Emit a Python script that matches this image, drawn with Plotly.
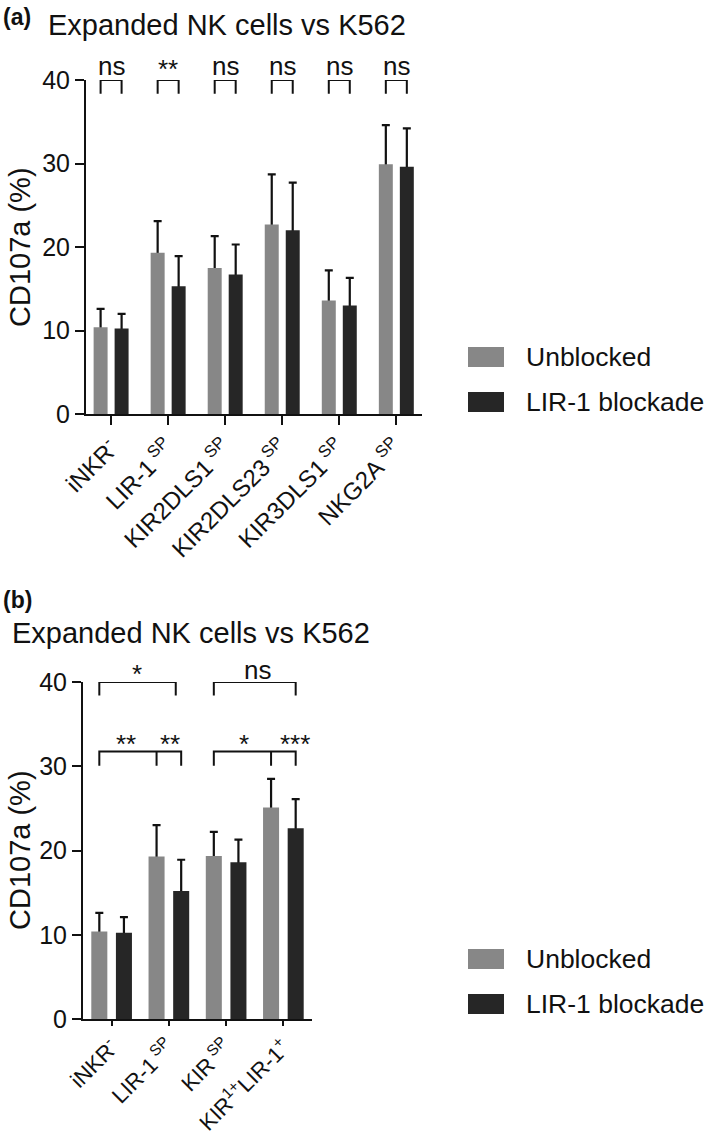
import plotly.graph_objects as go

W, H = 709, 1137
FONT = "Liberation Sans, Arial, sans-serif"

# ---------------- data ----------------
cats_a = ["iNKR<sup>-</sup>", "LIR-1<sup> SP</sup>", "KIR2DLS1<sup> SP</sup>",
          "KIR2DLS23<sup> SP</sup>", "KIR3DLS1<sup> SP</sup>", "NKG2A<sup> SP</sup>"]
unblocked_a = [10.4, 19.3, 17.5, 22.7, 13.6, 29.9]
unblocked_a_err = [2.2, 3.8, 3.8, 6.0, 3.6, 4.7]
blockade_a = [10.25, 15.3, 16.7, 22.0, 13.0, 29.6]
blockade_a_err = [1.75, 3.6, 3.6, 5.7, 3.3, 4.6]
sig_a = ["ns", "**", "ns", "ns", "ns", "ns"]

cats_b = ["iNKR<sup>-</sup>", "LIR-1<sup> SP</sup>", "KIR<sup> SP</sup>",
          "KIR<sup>1+</sup>LIR-1<sup>+</sup>"]
unblocked_b = [10.4, 19.3, 19.35, 25.1]
unblocked_b_err = [2.2, 3.7, 2.85, 3.4]
blockade_b = [10.25, 15.2, 18.6, 22.65]
blockade_b_err = [1.85, 3.7, 2.7, 3.45]

series_names = ["Unblocked", "LIR-1 blockade"]
colors = ["#878787", "#262626"]
ERR_COLOR = "#111111"
yticks = [0, 10, 20, 30, 40]
YMAX = 40

# ---------------- helpers ----------------
def px(x):
    return x / W

def py(y):
    return 1 - y / H

fig = go.Figure()

def add_panel(cats, vals, errs, xa, ya, off, bw):
    n = len(cats)
    for k, (v, e) in enumerate(zip(vals, errs)):
        xs = [i + (2 * k - 1) * off for i in range(n)]
        # error bars drawn under the bars so only the upper whisker shows
        fig.add_trace(go.Bar(
            x=xs, y=v, width=bw, xaxis=xa, yaxis=ya,
            marker=dict(color="rgba(0,0,0,0)", line=dict(width=0)),
            error_y=dict(type="data", symmetric=False, array=e, arrayminus=v,
                         color=ERR_COLOR, thickness=2.2, width=4),
            showlegend=False, hoverinfo="skip"))
    for k, v in enumerate(vals):
        xs = [i + (2 * k - 1) * off for i in range(n)]
        fig.add_trace(go.Bar(
            x=xs, y=v, width=bw, xaxis=xa, yaxis=ya, name=series_names[k],
            marker=dict(color=colors[k], line=dict(width=0)),
            showlegend=False))

OFF_A, BW_A = 0.184, 0.245
OFF_B, BW_B = 0.215, 0.28

add_panel(cats_a, [unblocked_a, blockade_a], [unblocked_a_err, blockade_a_err],
          "x", "y", OFF_A, BW_A)
add_panel(cats_b, [unblocked_b, blockade_b], [unblocked_b_err, blockade_b_err],
          "x2", "y2", OFF_B, BW_B)

axis_common = dict(showline=True, linecolor="#111111", linewidth=2,
                   ticks="outside", tickcolor="#111111", tickwidth=2,
                   ticklen=9, showgrid=False, zeroline=False,
                   automargin=False, fixedrange=True)
xtickfont_a = dict(family=FONT, size=24, color="#111111")
xtickfont_b = dict(family=FONT, size=22, color="#111111")
ytickfont = dict(family=FONT, size=25, color="#111111")

fig.update_layout(
    width=W, height=H, barmode="overlay",
    margin=dict(l=0, r=0, t=0, b=0),
    paper_bgcolor="white", plot_bgcolor="white",
    font=dict(family=FONT, color="#111111"),
    xaxis=dict(axis_common, domain=[px(86), px(422)], range=[-0.44, 5.45],
               tickmode="array", tickvals=list(range(len(cats_a))),
               ticktext=cats_a, tickangle=-45, anchor="y", tickfont=xtickfont_a),
    yaxis=dict(axis_common, domain=[py(414), py(80)], range=[0, YMAX],
               tickmode="array", tickvals=yticks, anchor="x", tickfont=ytickfont),
    xaxis2=dict(axis_common, domain=[px(83), px(312)], range=[-0.5, 3.5],
                tickmode="array", tickvals=list(range(len(cats_b))),
                ticktext=cats_b, tickangle=-45, anchor="y2", tickfont=xtickfont_b,
                ticklen=5),
    yaxis2=dict(axis_common, domain=[py(1019), py(682)], range=[0, YMAX],
                tickmode="array", tickvals=yticks, anchor="x2", tickfont=ytickfont),
)

shapes = []
annotations = []

def bracket(xa, ya, x0, x1, y, drop, mids=()):
    path = f"M {x0},{y - drop} L {x0},{y} L {x1},{y} L {x1},{y - drop}"
    for m in mids:
        path += f" M {m},{y} L {m},{y - drop}"
    shapes.append(dict(type="path", path=path, xref=xa, yref=ya,
                       line=dict(color="#111111", width=2)))

def label(xa, ya, x, y, text, size=26):
    annotations.append(dict(x=x, y=y / YMAX, xref=xa, yref=ya + " domain",
                            text=text, showarrow=False, xanchor="center",
                            yanchor="middle",
                            font=dict(family=FONT, size=size, color="#111111")))

# panel a significance brackets
for i, s in enumerate(sig_a):
    bracket("x", "y", i - OFF_A, i + OFF_A, 40, 1.65)
    label("x", "y", i, 41.7 if s == "ns" else 41.3, s)

# panel b significance brackets
bracket("x2", "y2", 0 - OFF_B, 1 + 0.12, 40, 1.6)
label("x2", "y2", 0.44, 41.0, "*")
bracket("x2", "y2", 2 - OFF_B, 3 + OFF_B, 40, 1.6)
label("x2", "y2", 2.55, 41.4, "ns")
bracket("x2", "y2", 0 - OFF_B, 1 + OFF_B, 31.75, 1.7, mids=[1 - OFF_B])
label("x2", "y2", 0.25, 32.6, "**")
label("x2", "y2", 1.02, 32.6, "**")
bracket("x2", "y2", 2 - OFF_B, 3 + OFF_B, 31.75, 1.7, mids=[3 - OFF_B])
label("x2", "y2", 2.32, 32.6, "*")
label("x2", "y2", 3.21, 32.6, "***")

# panel labels and titles
annotations.append(dict(x=px(1), y=py(17), xref="paper", yref="paper",
                        text="<b>(a)</b>", showarrow=False, xanchor="left",
                        yanchor="middle", font=dict(family=FONT, size=23)))
annotations.append(dict(x=px(1), y=py(600), xref="paper", yref="paper",
                        text="<b>(b)</b>", showarrow=False, xanchor="left",
                        yanchor="middle", font=dict(family=FONT, size=23)))
annotations.append(dict(x=px(46), y=py(25), xref="paper", yref="paper",
                        text="Expanded NK cells vs K562", showarrow=False,
                        xanchor="left", yanchor="middle",
                        font=dict(family=FONT, size=29)))
annotations.append(dict(x=px(10), y=py(633), xref="paper", yref="paper",
                        text="Expanded NK cells vs K562", showarrow=False,
                        xanchor="left", yanchor="middle",
                        font=dict(family=FONT, size=29)))

# y axis titles
for yc in (247, 850):
    annotations.append(dict(x=px(20), y=py(yc), xref="paper", yref="paper",
                            text="CD107a (%)", showarrow=False, textangle=-90,
                            xanchor="center", yanchor="middle",
                            font=dict(family=FONT, size=29)))

# legends
for y0 in (357, 959):
    for k, name in enumerate(series_names):
        yc = y0 + 45 * k
        shapes.append(dict(type="rect", xref="paper", yref="paper",
                           x0=px(468), x1=px(504), y0=py(yc + 10), y1=py(yc - 10),
                           fillcolor=colors[k], line=dict(width=0)))
        annotations.append(dict(x=px(524), y=py(yc), xref="paper", yref="paper",
                                text=name, showarrow=False, xanchor="left",
                                yanchor="middle",
                                font=dict(family=FONT, size=26.5)))

fig.update_layout(shapes=shapes, annotations=annotations)
fig.write_html("out.html",
               config={"displayModeBar": False},
               post_script="document.body.style.margin='0';"
                           "document.body.style.overflow='hidden';")
